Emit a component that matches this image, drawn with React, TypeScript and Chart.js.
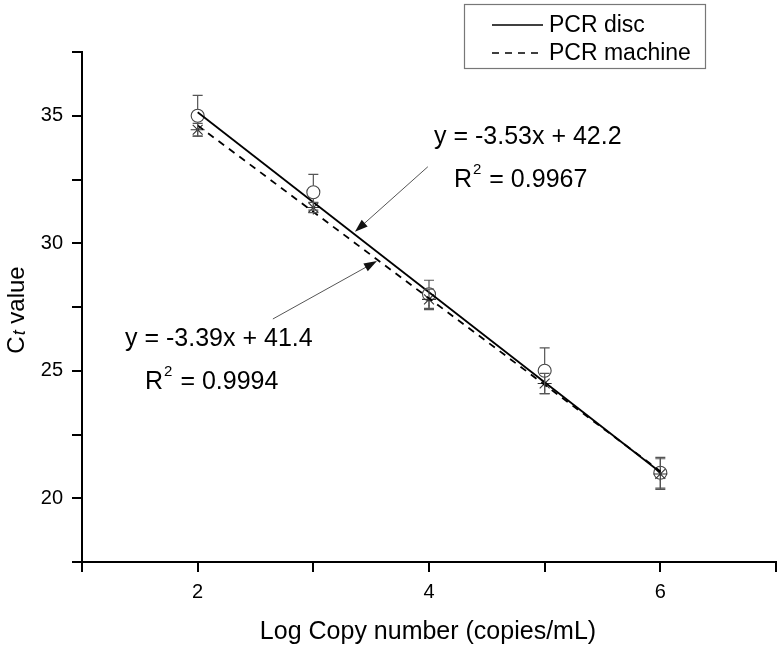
import React, { useEffect, useRef } from 'react';
import { Chart, registerables } from 'chart.js';
Chart.register(...registerables);

// ---- data ----
const logCopies = [2, 3, 4, 5, 6];
const discCt = [35.0, 32.0, 28.0, 25.0, 21.0];
const discErr = [0.8, 0.7, 0.55, 0.9, 0.6];
const machineCt = [34.45, 31.4, 27.8, 24.5, 20.95];
const machineErr = [0.25, 0.2, 0.4, 0.4, 0.6];
const fitX = [2, 6];
const discFit = [35.14, 21.02];
const machineFit = [34.62, 21.06];
const xLabeled = [2, 4, 6];
const yLabeled = [20, 25, 30, 35];
const legendLabels = ['PCR disc', 'PCR machine'];
const discEquation = 'y = -3.53x + 42.2';
const discR2 = '0.9967';
const machineEquation = 'y = -3.39x + 41.4';
const machineR2 = '0.9994';
const xTitle = 'Log Copy number (copies/mL)';

// ---- annotation anchors (data coordinates) ----
const discEqPos = { x: 4.043, y: 34.18 };
const discR2Pos = { x: 4.216, y: 32.49 };
const machineEqPos = { x: 1.372, y: 26.24 };
const machineR2Pos = { x: 1.545, y: 24.56 };
const discArrow = { from: { x: 3.99, y: 33.0 }, to: { x: 3.36, y: 30.45 } };
const machineArrow = { from: { x: 2.65, y: 27.03 }, to: { x: 3.55, y: 29.3 } };

const FONT = '"Liberation Sans", Arial, Helvetica, sans-serif';

function drawArrow(ctx: CanvasRenderingContext2D, x1: number, y1: number, x2: number, y2: number) {
  const ang = Math.atan2(y2 - y1, x2 - x1);
  const len = 13;
  const half = 4.5;
  ctx.save();
  ctx.strokeStyle = '#555';
  ctx.fillStyle = '#111';
  ctx.lineWidth = 1;
  ctx.beginPath();
  ctx.moveTo(x1, y1);
  ctx.lineTo(x2 - Math.cos(ang) * len * 0.8, y2 - Math.sin(ang) * len * 0.8);
  ctx.stroke();
  ctx.beginPath();
  ctx.moveTo(x2, y2);
  ctx.lineTo(x2 - Math.cos(ang) * len + Math.sin(ang) * half, y2 - Math.sin(ang) * len - Math.cos(ang) * half);
  ctx.lineTo(x2 - Math.cos(ang) * len - Math.sin(ang) * half, y2 - Math.sin(ang) * len + Math.cos(ang) * half);
  ctx.closePath();
  ctx.fill();
  ctx.restore();
}

function drawR2(ctx: CanvasRenderingContext2D, x: number, y: number, value: string) {
  ctx.save();
  ctx.fillStyle = '#000';
  ctx.textBaseline = 'middle';
  ctx.textAlign = 'left';
  ctx.font = `25px ${FONT}`;
  ctx.fillText('R', x, y);
  const w = ctx.measureText('R').width;
  ctx.font = `15px ${FONT}`;
  ctx.fillText('2', x + w + 1, y - 10);
  const w2 = ctx.measureText('2').width;
  ctx.font = `25px ${FONT}`;
  ctx.fillText(' = ' + value, x + w + w2 + 2, y);
  ctx.restore();
}

const overlay = {
  id: 'overlay',
  afterDatasetsDraw(chart: any) {
    const ctx: CanvasRenderingContext2D = chart.ctx;
    const xs = chart.scales.x;
    const ys = chart.scales.y;
    const drawErr = (vals: number[], errs: number[], r: number) => {
      ctx.save();
      ctx.strokeStyle = '#555';
      ctx.lineWidth = 1.2;
      vals.forEach((v, i) => {
        const px = xs.getPixelForValue(logCopies[i]);
        const cy = ys.getPixelForValue(v);
        const top = ys.getPixelForValue(v + errs[i]);
        const bot = ys.getPixelForValue(v - errs[i]);
        ctx.beginPath();
        if (top < cy - r) { ctx.moveTo(px, cy - r); ctx.lineTo(px, top); }
        if (bot > cy + r) { ctx.moveTo(px, cy + r); ctx.lineTo(px, bot); }
        ctx.moveTo(px - 5, top); ctx.lineTo(px + 5, top);
        ctx.moveTo(px - 5, bot); ctx.lineTo(px + 5, bot);
        ctx.stroke();
      });
      ctx.restore();
    };
    drawErr(discCt, discErr, 6.5);
    drawErr(machineCt, machineErr, 6);
  },
  afterDraw(chart: any) {
    const ctx: CanvasRenderingContext2D = chart.ctx;
    const xs = chart.scales.x;
    const ys = chart.scales.y;
    const P = (p: { x: number; y: number }) => ({ x: xs.getPixelForValue(p.x), y: ys.getPixelForValue(p.y) });

    // annotations
    ctx.save();
    ctx.fillStyle = '#000';
    ctx.font = `25px ${FONT}`;
    ctx.textBaseline = 'middle';
    ctx.textAlign = 'left';
    let p = P(discEqPos);
    ctx.fillText(discEquation, p.x, p.y);
    p = P(machineEqPos);
    ctx.fillText(machineEquation, p.x, p.y);
    ctx.restore();
    p = P(discR2Pos);
    drawR2(ctx, p.x, p.y, discR2);
    p = P(machineR2Pos);
    drawR2(ctx, p.x, p.y, machineR2);

    let a = P(discArrow.from), b = P(discArrow.to);
    drawArrow(ctx, a.x, a.y, b.x, b.y);
    a = P(machineArrow.from); b = P(machineArrow.to);
    drawArrow(ctx, a.x, a.y, b.x, b.y);

    // legend box
    ctx.save();
    ctx.strokeStyle = '#777';
    ctx.lineWidth = 1.2;
    ctx.strokeRect(464.5, 4.5, 241, 64);
    ctx.strokeStyle = '#000';
    ctx.lineWidth = 1.5;
    ctx.beginPath();
    ctx.moveTo(492, 25); ctx.lineTo(543, 25);
    ctx.stroke();
    ctx.setLineDash([7, 6]);
    ctx.beginPath();
    ctx.moveTo(492, 53); ctx.lineTo(538, 53);
    ctx.stroke();
    ctx.setLineDash([]);
    ctx.fillStyle = '#000';
    ctx.font = `23px ${FONT}`;
    ctx.textBaseline = 'middle';
    ctx.textAlign = 'left';
    ctx.fillText(legendLabels[0], 549, 26);
    ctx.fillText(legendLabels[1], 549, 54);
    ctx.restore();

    // x title
    ctx.save();
    ctx.fillStyle = '#000';
    ctx.font = `25px ${FONT}`;
    ctx.textAlign = 'center';
    ctx.textBaseline = 'middle';
    ctx.fillText(xTitle, 428, 632);
    ctx.restore();

    // y title: C_t value
    ctx.save();
    ctx.translate(17, 310);
    ctx.rotate(-Math.PI / 2);
    ctx.fillStyle = '#000';
    ctx.textBaseline = 'middle';
    ctx.textAlign = 'left';
    ctx.font = `24px ${FONT}`;
    const wC = ctx.measureText('C').width;
    const wRest = ctx.measureText(' value').width;
    ctx.font = `italic 18px ${FONT}`;
    const wt = ctx.measureText('t').width;
    const total = wC + wt + wRest + 1;
    const x0 = -total / 2;
    ctx.font = `24px ${FONT}`;
    ctx.fillText('C', x0, 0);
    ctx.font = `italic 18px ${FONT}`;
    ctx.fillText('t', x0 + wC + 1, 3);
    ctx.font = `24px ${FONT}`;
    ctx.fillText(' value', x0 + wC + wt + 1, 0);
    ctx.restore();
  },
};

export default function App() {
  const ref = useRef<HTMLCanvasElement | null>(null);
  useEffect(() => {
    document.body.style.margin = '0';
    const canvas = ref.current!;
    const chart = new Chart(canvas, {
      type: 'scatter',
      data: {
        datasets: [
          {
            label: legendLabels[0] + ' fit',
            type: 'line',
            data: fitX.map((x, i) => ({ x, y: discFit[i] })),
            borderColor: '#000',
            borderWidth: 1.8,
            pointRadius: 0,
            fill: false,
          },
          {
            label: legendLabels[1] + ' fit',
            type: 'line',
            data: fitX.map((x, i) => ({ x, y: machineFit[i] })),
            borderColor: '#000',
            borderWidth: 1.8,
            borderDash: [7, 6],
            pointRadius: 0,
            fill: false,
          },
          {
            label: legendLabels[1],
            data: logCopies.map((x, i) => ({ x, y: machineCt[i] })),
            pointStyle: 'star',
            pointRadius: 7,
            borderColor: '#333',
            borderWidth: 1.1,
            backgroundColor: 'rgba(0,0,0,0)',
          },
          {
            label: legendLabels[0],
            data: logCopies.map((x, i) => ({ x, y: discCt[i] })),
            pointStyle: 'circle',
            pointRadius: 6.5,
            borderColor: '#444',
            borderWidth: 1.1,
            backgroundColor: 'rgba(0,0,0,0)',
          },
        ],
      },
      options: {
        animation: false,
        responsive: false,
        devicePixelRatio: 1,
        layout: { autoPadding: false, padding: { top: 52, right: 4, left: 0, bottom: 0 } },
        plugins: { legend: { display: false }, tooltip: { enabled: false } },
        scales: {
          x: {
            type: 'linear',
            min: 1,
            max: 7,
            afterFit: (s: any) => { s.height = 83; s.paddingLeft = 0; s.paddingRight = 0; },
            ticks: {
              stepSize: 1,
              autoSkip: false,
              maxRotation: 0,
              padding: 8,
              color: '#000',
              font: { family: FONT, size: 20 },
              callback: (v: any) => (xLabeled.includes(Number(v)) ? String(v) : ''),
            },
            grid: { drawOnChartArea: false, drawTicks: true, tickLength: 10, color: '#000', lineWidth: 2 },
            border: { color: '#000', width: 2 },
          },
          y: {
            type: 'linear',
            min: 17.5,
            max: 37.5,
            afterFit: (s: any) => { s.width = 82; s.paddingTop = 0; s.paddingBottom = 0; },
            ticks: {
              stepSize: 2.5,
              autoSkip: false,
              padding: 9,
              color: '#000',
              font: { family: FONT, size: 20 },
              callback: (v: any) => (yLabeled.includes(Number(v)) ? String(v) : ''),
            },
            grid: { drawOnChartArea: false, drawTicks: true, tickLength: 10, color: '#000', lineWidth: 2 },
            border: { color: '#000', width: 2 },
          },
        },
      },
      plugins: [overlay],
    } as any);
    return () => chart.destroy();
  }, []);
  return (
    <div style={{ position: 'fixed', left: 0, top: 0, width: 780, height: 645, background: '#fff' }}>
      <canvas ref={ref} width={780} height={645} />
    </div>
  );
}
